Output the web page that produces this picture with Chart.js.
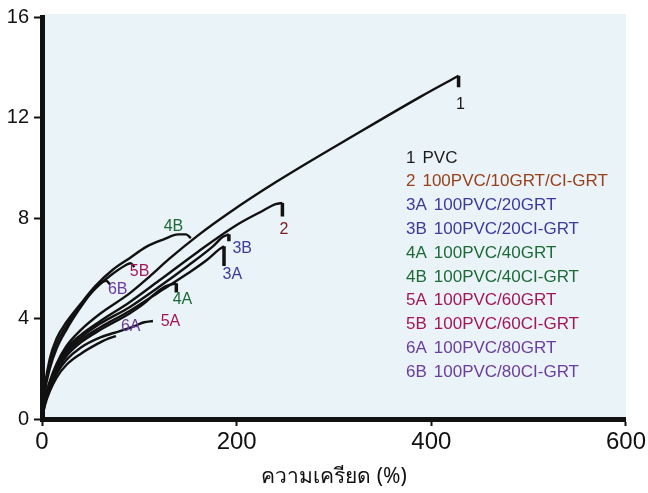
<!DOCTYPE html>
<html>
<head>
<meta charset="utf-8">
<script src="https://cdn.jsdelivr.net/npm/chart.js@4.4.1/dist/chart.umd.min.js"></script>
<style>
  html, body { margin: 0; padding: 0; background: #ffffff; }
  #wrap { width: 648px; height: 493px; }
</style>
</head>
<body>
<div id="wrap"><canvas id="stressChart" width="648" height="493"></canvas></div>
<script>
// stress-strain curves, [strain %, stress]
const curve1  = [[0,0],[3,0.8],[8,1.5],[15,2.2],[25,2.9],[40,3.55],[60,4.2],[90,5.0],[110,5.65],[130,6.35],[160,7.3],[192,8.2],[240,9.42],[330,11.5],[390,12.85],[428,13.66]];
const curve2  = [[0,0],[3,0.75],[8,1.45],[15,2.1],[25,2.8],[40,3.35],[60,3.9],[90,4.65],[120,5.5],[160,6.65],[200,7.72],[225,8.25],[240,8.55],[247,8.6]];
const curve3A = [[0,0],[3,0.7],[8,1.3],[15,1.95],[25,2.6],[40,3.15],[60,3.65],[90,4.3],[120,5.05],[150,5.8],[170,6.35],[182,6.75],[187,6.88]];
const curve3B = [[0,0],[3,0.72],[8,1.4],[15,2.05],[25,2.7],[40,3.25],[60,3.8],[90,4.45],[120,5.25],[150,6.1],[175,6.85],[186,7.25],[192,7.35]];
const curve4A = [[0,0],[3,0.68],[8,1.25],[15,1.9],[25,2.5],[40,3.05],[60,3.55],[90,4.2],[105,4.6],[118,5.05],[128,5.3],[138,5.4]];
const curve4B = [[0,0],[3,1.3],[8,2.4],[15,3.2],[25,3.85],[40,4.6],[55,5.3],[73,5.95],[90,6.4],[107,6.85],[125,7.15],[140,7.35],[148,7.35],[153,7.2]];
const curve5A = [[0,0],[3,0.6],[8,1.2],[15,1.8],[25,2.35],[40,2.85],[60,3.25],[80,3.5],[95,3.7],[105,3.85],[114,3.9]];
const curve5B = [[0,0],[3,1.2],[8,2.2],[15,3.0],[25,3.7],[40,4.55],[55,5.2],[70,5.7],[85,6.1],[91,6.2],[95,6.05]];
const curve6A = [[0,0],[3,0.55],[8,1.1],[15,1.65],[25,2.15],[40,2.6],[55,2.95],[68,3.2],[76,3.3]];
const curve6B = [[0,0],[3,1.1],[8,2.0],[15,2.8],[25,3.55],[38,4.35],[50,5.0],[60,5.4],[66,5.5],[70,5.35]];

// stress where the break tab drops to, at the last strain of each curve
const dropTo = { '1': 13.2, '2': 8.06, '3A': 6.09, '3B': 7.07, '4A': 5.03 };

const seriesCodes = ['1', '2', '3A', '3B', '4A', '4B', '5A', '5B', '6A', '6B'];
const seriesCurves = [curve1, curve2, curve3A, curve3B, curve4A, curve4B, curve5A, curve5B, curve6A, curve6B];
const seriesNames = ['PVC', '100PVC/10GRT/CI-GRT', '100PVC/20GRT', '100PVC/20CI-GRT', '100PVC/40GRT',
                     '100PVC/40CI-GRT', '100PVC/60GRT', '100PVC/60CI-GRT', '100PVC/80GRT', '100PVC/80CI-GRT'];
const seriesColors = ['#1a1a1a', '#98401c', '#3b3b9b', '#3b3b9b', '#1d6a37', '#1d6a37', '#a3175a', '#a3175a', '#6a3da0', '#6a3da0'];

// where the curve labels sit, in data units
const labelX = [430, 248.7, 195.5, 205.7, 144.3, 135.1, 132, 100.3, 91.1, 77.8];
const labelY = [12.53, 7.55, 5.73, 6.8, 4.74, 7.67, 3.87, 5.85, 3.68, 5.14];

const xTicks = [0, 200, 400, 600];
const yTicks = [0, 4, 8, 12, 16];

const toPoints = arr => arr.map(p => ({ x: p[0], y: p[1] }));

const datasets = [];
seriesCurves.forEach((c, i) => {
    datasets.push({
        data: toPoints(c),
        borderColor: '#111111',
        borderWidth: 2.4,
        pointRadius: 0,
        fill: false,
        cubicInterpolationMode: 'monotone'
    });
    const code = seriesCodes[i];
    if (dropTo[code] !== undefined) {
        const last = c[c.length - 1];
        datasets.push({
            data: [{ x: last[0], y: last[1] }, { x: last[0], y: dropTo[code] }],
            borderColor: '#111111',
            borderWidth: 3.5,
            pointRadius: 0,
            fill: false,
            tension: 0
        });
    }
});

const plotBackground = {
    id: 'plotBackground',
    beforeDraw(chart) {
        const { ctx, chartArea } = chart;
        ctx.save();
        ctx.fillStyle = '#eaf3f7';
        ctx.fillRect(chartArea.left, chartArea.top - 3, chartArea.right - chartArea.left, chartArea.bottom - chartArea.top + 3);
        ctx.restore();
    }
};

const curveLabels = {
    id: 'curveLabels',
    afterDatasetsDraw(chart) {
        const { ctx, scales } = chart;
        ctx.save();
        ctx.font = '16px "Liberation Sans", Arial, sans-serif';
        ctx.textAlign = 'center';
        ctx.textBaseline = 'middle';
        seriesCodes.forEach((code, i) => {
            ctx.fillStyle = i === 1 ? '#7a2020' : seriesColors[i];
            ctx.fillText(code, scales.x.getPixelForValue(labelX[i]), scales.y.getPixelForValue(labelY[i]));
        });
        ctx.restore();
    }
};

const legendText = {
    id: 'legendText',
    afterDraw(chart) {
        const { ctx } = chart;
        ctx.save();
        ctx.font = '17px "Liberation Sans", Arial, sans-serif';
        ctx.textAlign = 'left';
        ctx.textBaseline = 'middle';
        seriesCodes.forEach((code, i) => {
            const y = 158 + i * 23.8;
            ctx.fillStyle = seriesColors[i];
            ctx.fillText(code, 406, y);
            const w = ctx.measureText(code).width;
            ctx.fillText(seriesNames[i], 406 + w + 7, y);
        });
        ctx.restore();
    }
};

new Chart(document.getElementById('stressChart').getContext('2d'), {
    type: 'line',
    data: { datasets: datasets },
    options: {
        responsive: false,
        animation: false,
        layout: { padding: { top: 15, right: 20, left: 0, bottom: 0 } },
        plugins: { legend: { display: false }, tooltip: { enabled: false } },
        scales: {
            x: {
                type: 'linear',
                min: 0,
                max: 600,
                afterFit: s => { s.height = 74; },
                afterBuildTicks: s => { s.ticks = xTicks.map(v => ({ value: v })); },
                border: { display: true, width: 5, color: '#111111' },
                grid: { display: true, drawOnChartArea: false, drawTicks: true, tickLength: 7, tickWidth: 2, tickColor: '#111111', color: '#111111' },
                ticks: { color: '#111111', padding: 2, maxRotation: 0, font: { family: '"Liberation Sans Narrow", "Liberation Sans", Arial, sans-serif', size: 24 } },
                title: {
                    display: true,
                    text: 'ความเครียด (%)',
                    color: '#111111',
                    font: { family: '"Liberation Sans Narrow", "Noto Sans", sans-serif', size: 21 },
                    padding: { top: 0, bottom: 3 }
                }
            },
            y: {
                type: 'linear',
                min: 0,
                max: 16,
                afterFit: s => { s.width = 42; },
                afterBuildTicks: s => { s.ticks = yTicks.map(v => ({ value: v })); },
                border: { display: true, width: 5, color: '#111111' },
                grid: { display: true, drawOnChartArea: false, drawTicks: true, tickLength: 8, tickWidth: 2, tickColor: '#111111', color: '#111111' },
                ticks: { color: '#111111', padding: 5, font: { family: '"Liberation Sans", Arial, sans-serif', size: 20 } }
            }
        }
    },
    plugins: [plotBackground, curveLabels, legendText]
});
</script>
</body>
</html>
